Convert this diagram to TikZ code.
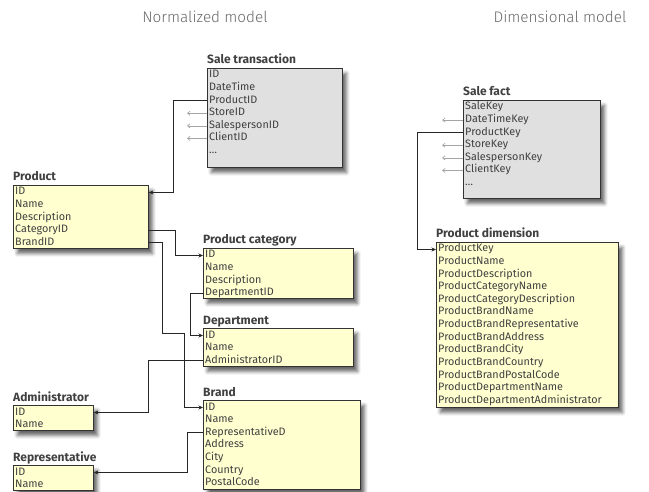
\documentclass[tikz,border=0pt]{standalone}
\usepackage{fontspec}
\setmainfont{Fira Sans}
\newfontfamily\headfont{Fira Sans Light}
\usetikzlibrary{arrows.meta,shadows.blur}
\definecolor{entityyellow}{RGB}{255,255,208}
\definecolor{factgray}{RGB}{224,224,224}
\definecolor{boxline}{RGB}{51,51,51}
\definecolor{inkgray}{RGB}{64,64,64}
\definecolor{headgray}{RGB}{105,105,105}
\definecolor{stubgray}{RGB}{165,165,165}
\tikzset{
  entity/.style={draw=boxline,line width=0.9pt,fill=entityyellow,anchor=north west,inner sep=0pt,
                 blur shadow={shadow xshift=4pt,shadow yshift=-5pt,shadow blur radius=3.5pt,shadow opacity=60}},
  fact/.style={entity,fill=factgray},
  entitytitle/.style={anchor=base west,inner sep=0pt,text=inkgray,font=\fontsize{12}{14}\selectfont\bfseries},
  field/.style={anchor=west,inner sep=0pt,text height=7pt,text depth=2pt,text=inkgray,
                font=\fontsize{10.8}{12}\selectfont},
  link/.style={-{Stealth[length=4.5pt,width=4pt]},line width=0.8pt,draw=black!85},
  stub/.style={-{Straight Barb[length=2.5pt,width=4pt]},line width=0.7pt,draw=stubgray},
  heading/.style={font=\headfont\fontsize{15.3}{18}\selectfont,text=headgray},
}

\begin{document}
\begin{tikzpicture}[x=1pt,y=-1pt]
  \path[use as bounding box] (0,0) rectangle (649,492);
  \node[heading] (normhead) at (205,17) {Normalized model};
  \node[heading] (dimhead) at (560,17) {Dimensional model};

  % normalized side
  \node[fact,minimum width=135pt,minimum height=99pt] (st) at (207,68) {};
  \node[entitytitle] (st-t) at ([yshift=4pt]st.north west) {Sale transaction};
  \foreach \f [count=\i] in {ID,DateTime,ProductID,StoreID,SalespersonID,ClientID,\dots}
    \node[field] (st-\i) at ([xshift=2pt,yshift={-7.5-12.6*(\i-1)}]st.north west) {\f};

  \node[entity,minimum width=135pt,minimum height=63pt] (pr) at (13,185) {};
  \node[entitytitle] (pr-t) at ([yshift=4pt]pr.north west) {Product};
  \foreach \f [count=\i] in {ID,Name,Description,CategoryID,BrandID}
    \node[field] (pr-\i) at ([xshift=2pt,yshift={-7.5-12.6*(\i-1)}]pr.north west) {\f};

  \node[entity,minimum width=150pt,minimum height=50pt] (pc) at (203,248) {};
  \node[entitytitle] (pc-t) at ([yshift=4pt]pc.north west) {Product category};
  \foreach \f [count=\i] in {ID,Name,Description,DepartmentID}
    \node[field] (pc-\i) at ([xshift=2pt,yshift={-7.5-12.6*(\i-1)}]pc.north west) {\f};

  \node[entity,minimum width=150pt,minimum height=38pt] (dp) at (203,328) {};
  \node[entitytitle] (dp-t) at ([yshift=4pt]dp.north west) {Department};
  \foreach \f [count=\i] in {ID,Name,AdministratorID}
    \node[field] (dp-\i) at ([xshift=2pt,yshift={-7.5-12.6*(\i-1)}]dp.north west) {\f};

  \node[entity,minimum width=80pt,minimum height=25pt] (ad) at (13,405) {};
  \node[entitytitle] (ad-t) at ([yshift=4pt]ad.north west) {Administrator};
  \foreach \f [count=\i] in {ID,Name}
    \node[field] (ad-\i) at ([xshift=2pt,yshift={-7.5-12.6*(\i-1)}]ad.north west) {\f};

  \node[entity,minimum width=80pt,minimum height=25pt] (rp) at (13,465) {};
  \node[entitytitle] (rp-t) at ([yshift=4pt]rp.north west) {Representative};
  \foreach \f [count=\i] in {ID,Name}
    \node[field] (rp-\i) at ([xshift=2pt,yshift={-7.5-12.6*(\i-1)}]rp.north west) {\f};

  \node[entity,minimum width=157pt,minimum height=89pt] (br) at (203,400) {};
  \node[entitytitle] (br-t) at ([yshift=4pt]br.north west) {Brand};
  \foreach \f [count=\i] in {ID,Name,RepresentativeD,Address,City,Country,PostalCode}
    \node[field] (br-\i) at ([xshift=2pt,yshift={-7.5-12.6*(\i-1)}]br.north west) {\f};

  \draw[link] (st-3 -| st.west) -- ++(-34,0) |- (pr-1 -| pr.east);
  \draw[link] (pr-4 -| pr.east) -- ++(26,0) |- (pc-1 -| pc.west);
  \draw[link] (pr-5 -| pr.east) -- ++(13,0) -- ++(0,91) -- ++(22,0) |- (br-1 -| br.west);
  \draw[link] (pc-4 -| pc.west) -- ++(-13,0) |- (dp-1 -| dp.west);
  \draw[link] (dp-3 -| dp.west) -- ++(-55,0) |- (ad-1 -| ad.east);
  \draw[link] (br-3 -| br.west) -- ++(-16,0) |- (rp-1 -| rp.east);
  \foreach \i in {4,5,6}
    \draw[stub] (st-\i -| st.west) -- ++(-20,0);

  % dimensional side
  \node[fact,minimum width=137pt,minimum height=98pt] (sf) at (463,100) {};
  \node[entitytitle] (sf-t) at ([yshift=4pt]sf.north west) {Sale fact};
  \foreach \f [count=\i] in {SaleKey,DateTimeKey,ProductKey,StoreKey,SalespersonKey,ClientKey,\dots}
    \node[field] (sf-\i) at ([xshift=2pt,yshift={-7.5-12.6*(\i-1)}]sf.north west) {\f};

  \node[entity,minimum width=182pt,minimum height=165pt] (pd) at (436,242) {};
  \node[entitytitle] (pd-t) at ([yshift=4pt]pd.north west) {Product dimension};
  \foreach \f [count=\i] in {ProductKey,ProductName,ProductDescription,ProductCategoryName,
      ProductCategoryDescription,ProductBrandName,ProductBrandRepresentative,ProductBrandAddress,
      ProductBrandCity,ProductBrandCountry,ProductBrandPostalCode,ProductDepartmentName,
      ProductDepartmentAdministrator}
    \node[field] (pd-\i) at ([xshift=2pt,yshift={-7.5-12.6*(\i-1)}]pd.north west) {\f};

  \draw[link] (sf-3 -| sf.west) -- ++(-46,0) |- (pd-1 -| pd.west);
  \foreach \i in {2,4,5,6}
    \draw[stub] (sf-\i -| sf.west) -- ++(-21,0);
\end{tikzpicture}
\end{document}
